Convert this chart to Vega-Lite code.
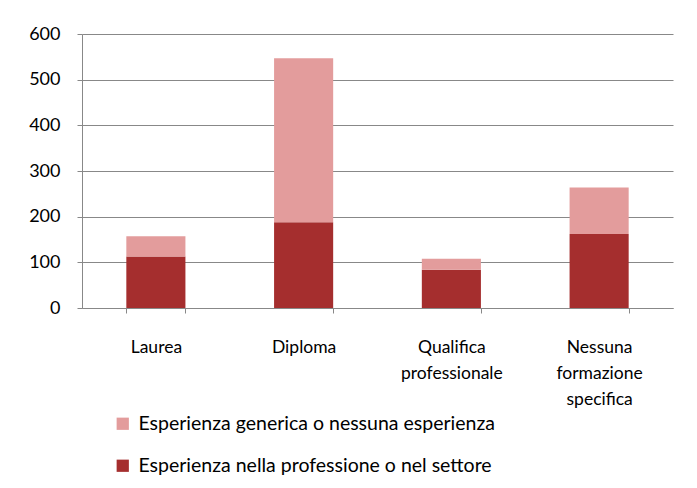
{
  "$schema": "https://vega.github.io/schema/vega-lite/v6.json",
  "autosize": {"type": "none"},
  "width": 591,
  "height": 274,
  "padding": {"left": 82, "top": 34, "right": 24, "bottom": 180},
  "background": "white",
  "data": {
    "values": [
      {"categoria": "Laurea", "serie": "Esperienza nella professione o nel settore", "valore": 113},
      {"categoria": "Laurea", "serie": "Esperienza generica o nessuna esperienza", "valore": 44},
      {"categoria": "Diploma", "serie": "Esperienza nella professione o nel settore", "valore": 188},
      {"categoria": "Diploma", "serie": "Esperienza generica o nessuna esperienza", "valore": 359},
      {"categoria": "Qualifica professionale", "serie": "Esperienza nella professione o nel settore", "valore": 84},
      {"categoria": "Qualifica professionale", "serie": "Esperienza generica o nessuna esperienza", "valore": 24},
      {"categoria": "Nessuna formazione specifica", "serie": "Esperienza nella professione o nel settore", "valore": 162},
      {"categoria": "Nessuna formazione specifica", "serie": "Esperienza generica o nessuna esperienza", "valore": 102}
    ]
  },
  "mark": {"type": "bar", "stroke": null},
  "encoding": {
    "x": {
      "field": "categoria",
      "type": "nominal",
      "sort": null,
      "scale": {"paddingInner": 0.6, "paddingOuter": 0.3},
      "axis": {
        "title": null,
        "labelAngle": 0,
        "labelExpr": "split(datum.label, ' ')",
        "labelFont": "Lato",
        "labelFontSize": 17.5,
        "labelColor": "#000000",
        "labelPadding": 25,
        "labelLineHeight": 26,
        "tickBand": "extent",
        "tickSize": 5,
        "tickColor": "#888888",
        "domainColor": "#888888",
        "grid": false
      }
    },
    "y": {
      "field": "valore",
      "type": "quantitative",
      "stack": "zero",
      "scale": {"domain": [0, 600], "nice": false},
      "axis": {
        "title": null,
        "values": [0, 100, 200, 300, 400, 500, 600],
        "labelFont": "Lato",
        "labelFontSize": 18,
        "labelColor": "#000000",
        "labelPadding": 17,
        "tickSize": 5,
        "tickColor": "#888888",
        "domainColor": "#888888",
        "gridColor": "#888888",
        "gridOpacity": 1
      }
    },
    "color": {
      "field": "serie",
      "type": "nominal",
      "scale": {
        "domain": ["Esperienza generica o nessuna esperienza", "Esperienza nella professione o nel settore"],
        "range": ["#E39C9C", "#A52E2E"]
      },
      "legend": {
        "title": null,
        "orient": "none",
        "legendX": 31,
        "legendY": 380,
        "direction": "vertical",
        "symbolType": "square",
        "symbolSize": 150,
        "symbolStrokeWidth": 0,
        "labelFont": "Lato",
        "labelFontSize": 19.5,
        "labelColor": "#000000",
        "labelLimit": 600,
        "rowPadding": 21,
        "labelOffset": 6
      }
    },
    "order": {"field": "serie", "sort": "descending"}
  },
  "config": {
    "view": {"stroke": null}
  }
}
